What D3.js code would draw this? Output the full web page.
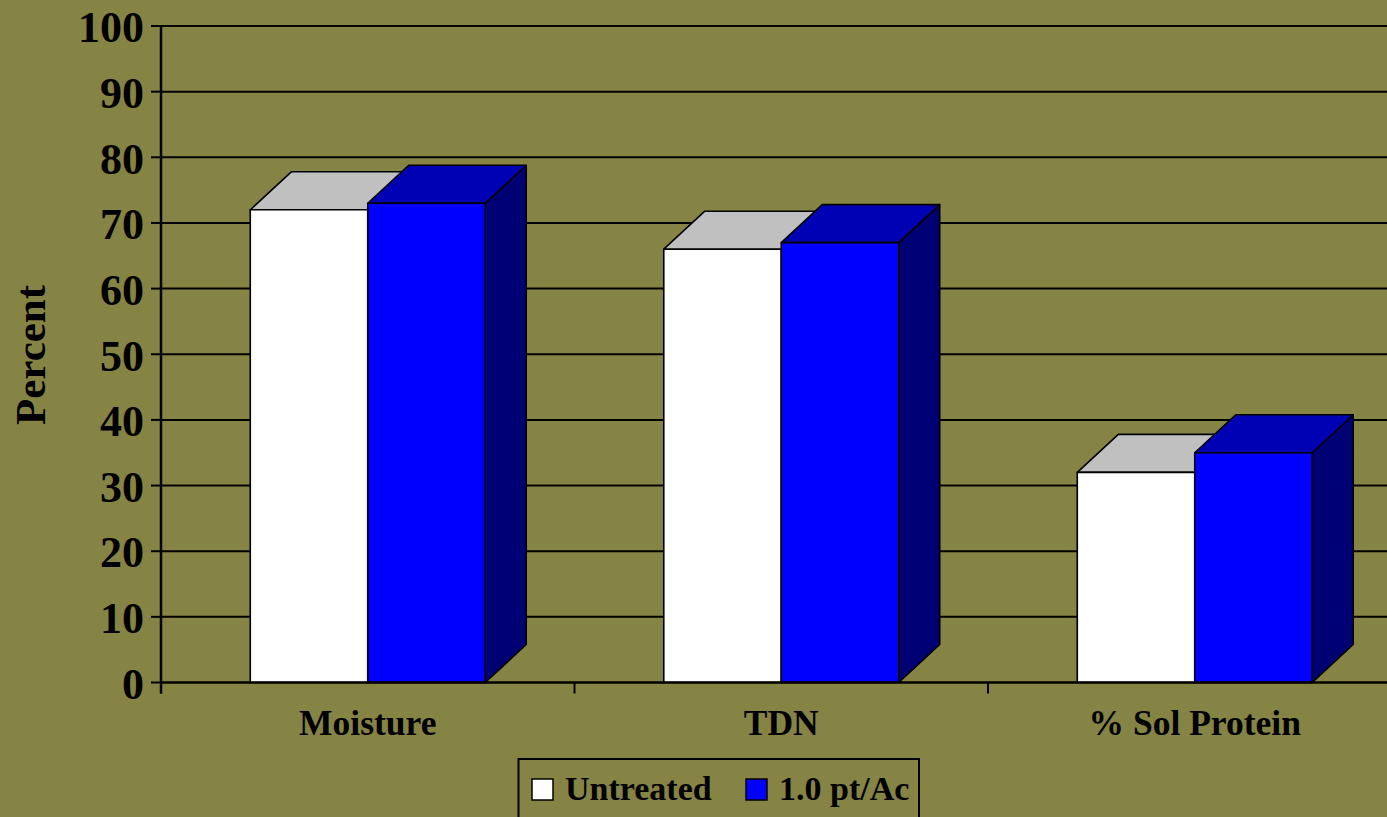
<!DOCTYPE html>
<html>
<head>
<meta charset="utf-8">
<script src="https://cdn.jsdelivr.net/npm/d3@7"></script>
<style>
html,body{margin:0;padding:0;background:#868444;overflow:hidden;}
svg{display:block;}
text{font-family:"Liberation Serif","Times New Roman",serif;font-weight:bold;fill:#000;}
</style>
</head>
<body>
<svg id="chart" width="1387" height="817"></svg>
<script>
const categories = ["Moisture", "TDN", "% Sol Protein"];
const seriesNames = ["Untreated", "1.0 pt/Ac"];
const untreated = [72, 66, 32];
const treated = [73, 67, 35];
const yTicks = [0, 10, 20, 30, 40, 50, 60, 70, 80, 90, 100];

const seriesValues = [untreated, treated];
const frontColors = ["#ffffff", "#0000ff"];
const topColors = ["#c0c0c0", "#0000b4"];
const sideColors = ["#808080", "#000075"];

(function () {
const W = 1387, H = 817;
const svg = d3.select("#chart");
svg.append("rect").attr("width", W).attr("height", H).attr("fill", "#868444");

const plotLeft = 161, plotBottom = 682.5, plotTop = 26;
const x0 = d3.scaleBand().domain(categories).range([plotLeft, plotLeft + 3 * 413.5]).paddingInner(0).paddingOuter(0);
const x1 = d3.scaleBand().domain(seriesNames).range([0, x0.bandwidth()]).paddingInner(0).paddingOuter(0.76);
const y = d3.scaleLinear().domain([0, 100]).range([plotBottom, plotTop]);
const dx = 41, dy = -38;

// gridlines
svg.append("g").selectAll("line").data(yTicks.filter(d => d > 0)).join("line")
  .attr("x1", plotLeft).attr("x2", W).attr("y1", d => y(d)).attr("y2", d => y(d))
  .attr("stroke", "#000").attr("stroke-width", 2);

// y tick marks & labels
const yg = svg.append("g");
yg.selectAll("line").data(yTicks).join("line")
  .attr("x1", plotLeft - 10).attr("x2", plotLeft).attr("y1", d => y(d)).attr("y2", d => y(d))
  .attr("stroke", "#000").attr("stroke-width", 2);
yg.selectAll("text").data(yTicks).join("text")
  .attr("x", 144).attr("y", d => y(d)).attr("dy", "0.37em")
  .attr("text-anchor", "end").style("font-size", "44px").text(d => d);

// bars
const bars = svg.append("g");
categories.forEach((cat, ci) => {
  seriesNames.forEach((s, si) => {
    const v = seriesValues[si][ci];
    const xl = x0(cat) + x1(s), xr = xl + x1.bandwidth();
    const yt = y(v), yb = y(0);
    const g = bars.append("g").attr("stroke", "#000").attr("stroke-width", 1.6).attr("stroke-linejoin", "round");
    g.append("path").attr("fill", sideColors[si])
      .attr("d", `M${xr},${yb}L${xr + dx},${yb + dy}L${xr + dx},${yt + dy}L${xr},${yt}Z`);
    g.append("path").attr("fill", topColors[si])
      .attr("d", `M${xl},${yt}L${xl + dx},${yt + dy}L${xr + dx},${yt + dy}L${xr},${yt}Z`);
    g.append("rect").attr("fill", frontColors[si])
      .attr("x", xl).attr("y", yt).attr("width", xr - xl).attr("height", yb - yt);
  });
});

// axes lines
svg.append("line").attr("x1", plotLeft).attr("x2", plotLeft).attr("y1", plotTop).attr("y2", plotBottom + 11)
  .attr("stroke", "#000").attr("stroke-width", 2.5);
svg.append("line").attr("x1", plotLeft).attr("x2", W).attr("y1", plotBottom).attr("y2", plotBottom)
  .attr("stroke", "#000").attr("stroke-width", 2.5);
svg.append("g").selectAll("line").data(categories).join("line")
  .attr("x1", d => x0(d)).attr("x2", d => x0(d)).attr("y1", plotBottom).attr("y2", plotBottom + 11)
  .attr("stroke", "#000").attr("stroke-width", 2);
svg.append("g").selectAll("text").data(categories).join("text")
  .attr("x", d => x0(d) + x0.bandwidth() / 2).attr("y", 735)
  .attr("text-anchor", "middle").style("font-size", "35.5px").text(d => d);

// y title
svg.append("text").attr("transform", "translate(45,355) rotate(-90)")
  .attr("text-anchor", "middle").style("font-size", "43px").text("Percent");

// legend
const lg = svg.append("g");
lg.append("rect").attr("x", 518.5).attr("y", 759).attr("width", 400.5).attr("height", 80)
  .attr("fill", "#868444").attr("stroke", "#000").attr("stroke-width", 2);
const legendX = [532, 746];
seriesNames.forEach((s, i) => {
  lg.append("rect").attr("x", legendX[i]).attr("y", 779).attr("width", 21).attr("height", 21)
    .attr("fill", frontColors[i]).attr("stroke", "#000").attr("stroke-width", 1.5);
  lg.append("text").attr("x", legendX[i] + 33).attr("y", 800).style("font-size", "34px").text(s);
});
})();
</script>
</body>
</html>
